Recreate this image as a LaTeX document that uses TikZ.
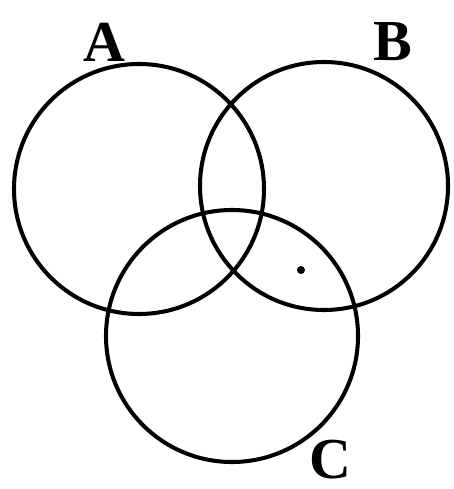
\documentclass[tikz,border=0pt]{standalone}
\usepackage{fontspec}
\setmainfont{Liberation Serif}
\usetikzlibrary{positioning}

\begin{document}
\begin{tikzpicture}[x=0.02cm,y=-0.02cm]
\tikzset{setline/.style={draw=black, line width=2.3pt},
  setname/.style={font=\fontsize{33}{36}\selectfont\bfseries, inner sep=0pt}}
\useasboundingbox (0,0) rectangle (453,489);
\draw[setline] (139,189) circle (125);
\draw[setline] (324,186) circle (124);
\draw[setline] (232,336) circle (126);
\node[setname] (labA) at (104,42) {A};
\node[setname] (labB) at (393,42) {B};
\node[setname] (labC) at (330,460) {C};
\fill (301,270) circle (4);
\end{tikzpicture}
\end{document}
